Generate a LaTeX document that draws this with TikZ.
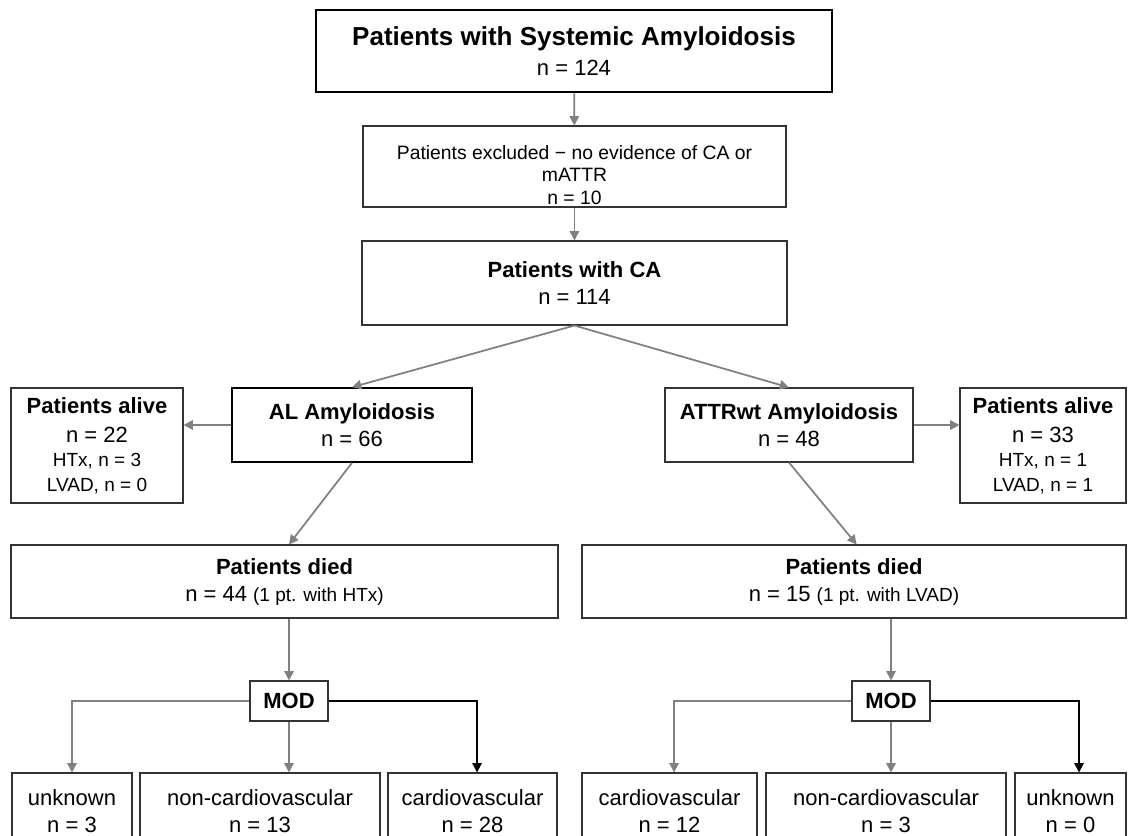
\documentclass[tikz,border=0pt]{standalone}
\usepackage{fontspec}
\setmainfont{Liberation Sans}
\usetikzlibrary{arrows.meta, shadows}
\newcommand{\mainfs}{\fontsize{16.5}{20.25}\selectfont}
\newcommand{\smallfs}{\fontsize{14.25}{18}\selectfont}
\newcommand{\titlefs}{\fontsize{19.5}{21}\selectfont}
\tikzstyle{box} = [rectangle, draw=black!80, line width=0.8pt, fill=white, align=center, inner sep=0pt, font=\mainfs, drop shadow={shadow xshift=0.9pt, shadow yshift=-0.9pt, opacity=0.18, fill=black!50}]
\tikzstyle{group} = [box, line width=1.2pt, draw=black]
\tikzstyle{outcome} = [box, minimum height=57pt]
\tikzstyle{arrow} = [line width=1.3pt, draw=black!50, -{Triangle[length=7pt, width=7pt]}]
\tikzstyle{darrow} = [arrow, draw=black]

\begin{document}
\begin{tikzpicture}[x=0.75pt, y=-0.75pt]
\useasboundingbox (0,0) rectangle (1129,836);
\fill[white] (0,0) rectangle (1129,836);
\clip (0,0) rectangle (1129,836);

% Cohort
\node[box, line width=2.2pt, draw=black, minimum width=387pt, minimum height=61.5pt] (systemic) at (574,51) {{\titlefs\bfseries Patients with Systemic Amyloidosis}\\[2pt]n = 124};
\node[box, font=\fontsize{14.5}{17}\selectfont, minimum width=317.25pt, minimum height=60.75pt] (excluded) at (574.5,166.5) {\rule{0pt}{23pt}Patients excluded − no evidence of CA or\\mATTR\\n = 10};
\node[box, minimum width=318.75pt, minimum height=63pt] (CA) at (574.5,283) {{\bfseries Patients with CA}\\n = 114};
\draw[arrow] (systemic) -- (excluded);
\draw[arrow] (excluded) -- (CA);

% AL and ATTRwt
\node[group, minimum width=180pt, minimum height=55.5pt] (AL) at (352,425) {{\bfseries AL Amyloidosis}\\n = 66};
\node[box, minimum width=186pt, minimum height=55.5pt] (ATTR) at (789,425) {{\bfseries ATTRwt Amyloidosis}\\n = 48};
\draw[arrow] (CA.south) -- (AL.north);
\draw[arrow] (CA.south) -- (ATTR.north);

% Patients alive
\node[box, minimum width=129pt, minimum height=86.25pt] (aliveAL) at (97,445.5) {{\bfseries Patients alive}\\[1.5pt]n = 22\\[-1.9pt]{\smallfs HTx, n = 3}\\[-1.9pt]{\smallfs LVAD, n = 0}};
\node[box, minimum width=124.5pt, minimum height=86.25pt] (aliveATTR) at (1043,445.5) {{\bfseries Patients alive}\\[1.5pt]n = 33\\[-1.9pt]{\smallfs HTx, n = 1}\\[-1.9pt]{\smallfs LVAD, n = 1}};
\draw[arrow] (AL.west) -- (AL.west -| aliveAL.east);
\draw[arrow] (ATTR.east) -- (ATTR.east -| aliveATTR.west);

% Patients died
\node[box, minimum width=410.25pt, minimum height=54.75pt] (diedAL) at (284.5,581.5) {{\bfseries Patients died}\\n = 44 {\smallfs (1 pt. with HTx)}};
\node[box, minimum width=408pt, minimum height=54.75pt] (diedATTR) at (854,581.5) {{\bfseries Patients died}\\n = 15 {\smallfs (1 pt. with LVAD)}};

% MOD
\node[box, minimum width=58.5pt, minimum height=30pt] (modAL) at (289,701) {\bfseries MOD};
\node[box, minimum width=58.5pt, minimum height=30pt] (modATTR) at (891,701) {\bfseries MOD};
\draw[arrow] (AL.south) -- (diedAL.north -| modAL.north);
\draw[arrow] (ATTR.south) -- ([xshift=2pt]diedATTR.north);
\draw[arrow] (diedAL.south -| modAL.north) -- (modAL.north);
\draw[arrow] (diedATTR.south -| modATTR.north) -- (modATTR.north);

% Mode of death, AL
\node[outcome, minimum width=90pt] (unknownAL) at (72,811) {unknown\\n = 3};
\node[outcome, minimum width=180pt] (noncardioAL) at (260,811) {non-cardiovascular\\n = 13};
\node[outcome, minimum width=126.75pt] (cardioAL) at (472.5,811) {cardiovascular\\n = 28};
\draw[arrow] (modAL.west) -| (unknownAL.north);
\draw[arrow] (modAL.south) -- (modAL.south |- noncardioAL.north);
\draw[darrow] (modAL.east) -| ([xshift=3.4pt]cardioAL.north);

% Mode of death, ATTRwt
\node[outcome, minimum width=131.25pt] (cardioATTR) at (669.5,811) {cardiovascular\\n = 12};
\node[outcome, minimum width=180pt] (noncardioATTR) at (886,811) {non-cardiovascular\\n = 3};
\node[outcome, minimum width=83.25pt] (unknownATTR) at (1070.5,811) {unknown\\n = 0};
\draw[arrow] (modATTR.west) -| ([xshift=3.4pt]cardioATTR.north);
\draw[arrow] (modATTR.south) -- (modATTR.south |- noncardioATTR.north);
\draw[darrow] (modATTR.east) -| ([xshift=6.4pt]unknownATTR.north);

\end{tikzpicture}
\end{document}
